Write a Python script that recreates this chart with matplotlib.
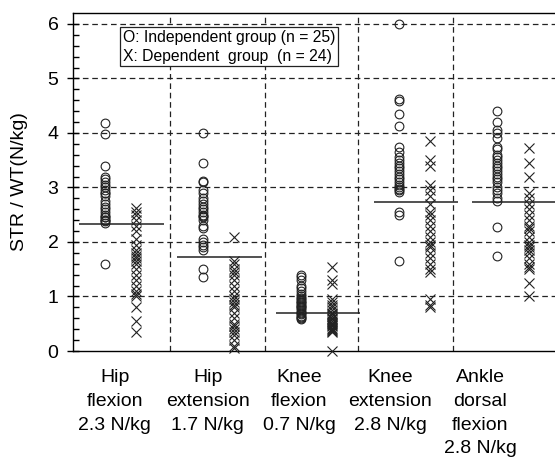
import matplotlib
matplotlib.use("Agg")
import matplotlib.pyplot as plt
import numpy as np

plt.rcParams['font.family'] = ['Liberation Sans', 'DejaVu Sans']

# category labels and the reference value shown for each
categories = ["Hip\nflexion\n2.3 N/kg", "Hip\nextension\n1.7 N/kg", "Knee\nflexion\n0.7 N/kg",
              "Knee\nextension\n2.8 N/kg", "Ankle\ndorsal\nflexion\n2.8 N/kg"]
ref_lines = [2.33, 1.72, 0.70, 2.73, 2.73]

# O: independent group (n = 25)
indep = [
    [4.18, 3.98, 3.4, 3.2, 3.15, 3.1, 3.05, 3.0, 2.95, 2.9, 2.9, 2.85, 2.75, 2.7, 2.65,
     2.6, 2.55, 2.5, 2.45, 2.45, 2.4, 2.4, 2.38, 2.35, 1.6],
    [4.0, 3.45, 3.12, 3.1, 2.95, 2.9, 2.8, 2.75, 2.7, 2.65, 2.6, 2.55, 2.5, 2.48, 2.45,
     2.4, 2.3, 2.25, 2.05, 1.95, 1.9, 1.85, 1.5, 1.35, 2.0],
    [1.4, 1.35, 1.3, 1.2, 1.15, 1.1, 1.05, 1.0, 0.98, 0.95, 0.92, 0.9, 0.88, 0.85, 0.82,
     0.8, 0.78, 0.75, 0.72, 0.7, 0.68, 0.65, 0.62, 0.6, 0.58],
    [6.0, 4.62, 4.58, 4.35, 4.12, 3.75, 3.65, 3.55, 3.5, 3.45, 3.4, 3.35, 3.3, 3.25, 3.2,
     3.15, 3.1, 3.05, 3.0, 2.98, 2.95, 2.92, 2.55, 2.5, 1.65],
    [4.4, 4.2, 4.05, 4.0, 3.9, 3.75, 3.7, 3.6, 3.55, 3.5, 3.45, 3.4, 3.35, 3.3, 3.25,
     3.2, 3.15, 3.1, 3.0, 2.95, 2.9, 2.8, 2.75, 2.28, 1.75],
]

# X: dependent group (n = 24)
dep = [
    [2.62, 2.55, 2.5, 2.4, 2.3, 2.2, 2.05, 1.95, 1.85, 1.8, 1.75, 1.7, 1.65, 1.6, 1.5,
     1.4, 1.3, 1.2, 1.1, 1.05, 1.0, 0.8, 0.55, 0.35],
    [2.1, 1.65, 1.6, 1.5, 1.45, 1.4, 1.3, 1.2, 1.1, 1.0, 0.95, 0.9, 0.85, 0.8, 0.7,
     0.6, 0.5, 0.45, 0.4, 0.35, 0.3, 0.2, 0.1, 0.05],
    [1.55, 1.3, 1.22, 0.95, 0.9, 0.85, 0.8, 0.75, 0.7, 0.68, 0.65, 0.6, 0.58, 0.55, 0.52,
     0.5, 0.48, 0.45, 0.42, 0.4, 0.38, 0.36, 0.35, 0.0],
    [3.85, 3.5, 3.4, 3.05, 2.95, 2.85, 2.7, 2.55, 2.5, 2.4, 2.3, 2.2, 2.1, 2.0, 1.95,
     1.9, 1.8, 1.7, 1.6, 1.5, 1.45, 0.95, 0.85, 0.8],
    [3.72, 3.45, 3.2, 2.9, 2.8, 2.7, 2.6, 2.5, 2.4, 2.3, 2.25, 2.2, 2.1, 2.0, 1.95,
     1.9, 1.85, 1.8, 1.7, 1.6, 1.55, 1.5, 1.25, 1.0],
]

# layout (the original is hand drawn, so groups are not evenly spaced)
pos = np.arange(len(categories))
label_pos = [-0.06, 0.89, 1.82, 2.75, 3.67]
separators = [0.505, 1.47, 2.42, 3.39]

fig = plt.figure(figsize=(5.55, 4.57), dpi=100)
ax = fig.add_axes([73 / 555, 106 / 457, 482 / 555, 338.5 / 457])

dash = (0, (4.5, 3))
for y in range(1, 7):
    ax.axhline(y, color='#222222', lw=0.9, ls=dash, zorder=1)
for x in separators:
    ax.axvline(x, color='#222222', lw=0.9, ls=dash, zorder=1)

for i in pos:
    ax.plot(np.full(len(indep[i]), i - 0.16), indep[i], 'o', ms=6.3, mfc='none',
            mec='#222222', mew=0.8, clip_on=False, zorder=3)
    ax.plot(np.full(len(dep[i]), i + 0.16), dep[i], 'x', ms=6.5, mec='#222222',
            mew=0.8, clip_on=False, zorder=3)
ax.hlines(ref_lines, pos - 0.42, pos + 0.44, color='#222222', lw=1.1, zorder=2)

ax.set_xlim(-0.485, 4.43)
ax.set_ylim(0, 6.21)
ax.set_yticks(range(0, 7))
ax.set_yticks(np.arange(0, 6.2, 0.2), minor=True)
ax.tick_params(axis='y', which='major', direction='inout', length=9, width=1,
               labelsize=14, pad=6)
ax.tick_params(axis='y', which='minor', direction='in', length=4, width=1)
ax.set_xticks(label_pos, categories)
ax.tick_params(axis='x', length=0, labelsize=14, pad=13)
for lab in ax.get_xticklabels():
    lab.set_linespacing(1.52)
ax.spines['right'].set_visible(False)
for s in ['left', 'bottom', 'top']:
    ax.spines[s].set_linewidth(1)

ax.set_ylabel('STR / WT(N/kg)', fontsize=14)
ax.yaxis.set_label_coords(-0.093, 0.5)

ax.text(0.025, 5.89, 'O: Independent group (n = 25)\nX: Dependent  group  (n = 24)',
        fontsize=11.3, va='top', ha='left', linespacing=1.3, zorder=5,
        bbox=dict(boxstyle='square,pad=0.18', fc='white', ec='#222222', lw=0.9))

fig.savefig('out.png', dpi=100)
